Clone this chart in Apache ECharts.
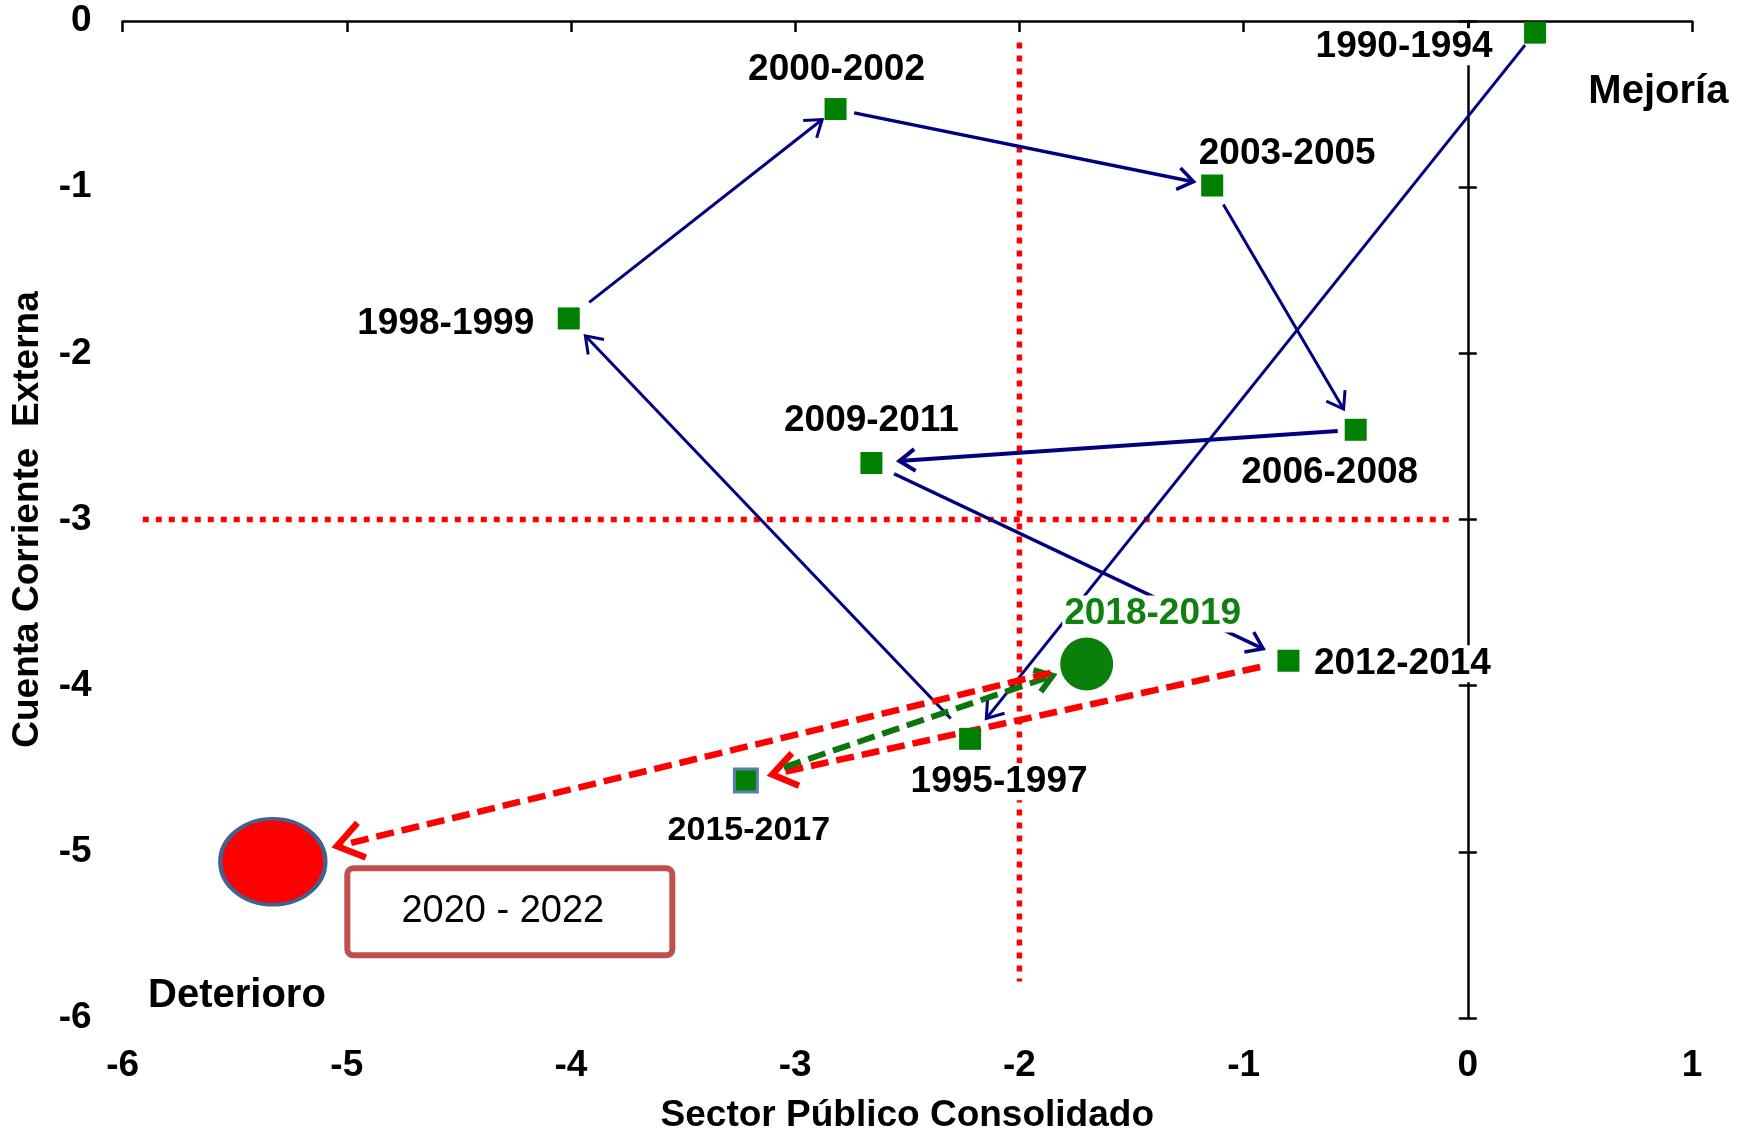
<!DOCTYPE html>
<html>
<head>
<meta charset="utf-8">
<script src="https://cdn.jsdelivr.net/npm/echarts@6/dist/echarts.min.js"></script>
<style>
html,body{margin:0;padding:0;background:#ffffff;}
#chart{width:1748px;height:1128px;}
</style>
</head>
<body>
<div id="chart"></div>
<script>
// ---------------- DATA ----------------
const periods  = ['1990-1994','1995-1997','1998-1999','2000-2002','2003-2005','2006-2008','2009-2011','2012-2014','2015-2017','2018-2019','2020-2022'];
const fiscal   = [ 0.30, -2.22, -4.01, -2.82, -1.14, -0.50, -2.66, -0.80, -3.22, -1.70, -5.33];
const external = [-0.07, -4.32, -1.79, -0.53, -0.99, -2.46, -2.66, -3.85, -4.57, -3.87, -5.06];
const xTicks = [-6, -5, -4, -3, -2, -1, 0, 1];
const yTicks = [0, -1, -2, -3, -4, -5, -6];
const xTitle = 'Sector Público Consolidado';
const yTitle = 'Cuenta Corriente  Externa';
const boxText = '2020 - 2022';
const thresholdV = [[-2, -0.13], [-2, -5.78]];
const thresholdH = [[-5.91, -3], [-0.06, -3]];
const notes = [
  {name: 'Mejoría',   value: [0.85, -0.43]},
  {name: 'Deterioro', value: [-5.49, -5.87]}
];

// ---------------- STYLES ----------------
const FONT = "'Liberation Sans', Arial, Helvetica, sans-serif";
const NAVY = '#000080', RED = '#FF0000', GREEN = '#0c760c';
// label offsets (px) relative to each point
const labelOffsets = [[-131,14],[29,43],[-123,5],[1,-39],[75,-32],[-26,43],[0,-42],[114,3],[3,50],[66,-50]];
const labelBg = [true,true,false,false,false,false,true,true,false,true];
const labelSizes = [37,37,37,37,37,37,37,37,34,37];
// segment styles (segment i goes from period i to period i+1)
const segStyles = [
  {c:NAVY, w:3,   dash:null,   g0:16, g1:26, h:19},
  {c:NAVY, w:3,   dash:null,   g0:28, g1:24, h:19},
  {c:NAVY, w:3,   dash:null,   g0:26, g1:17, h:19},
  {c:NAVY, w:3.5, dash:null,   g0:19, g1:19, h:19},
  {c:NAVY, w:3,   dash:null,   g0:22, g1:24, h:19},
  {c:NAVY, w:4,   dash:null,   g0:18, g1:28, h:19},
  {c:NAVY, w:3.5, dash:null,   g0:25, g1:28, h:19},
  {c:RED,  w:6.5, dash:[18,8], g0:29, g1:27, h:29},
  {c:GREEN,w:6,   dash:[18,8], g0:40, g1:36, h:20},
  {c:RED,  w:6.5, dash:[18,8], g0:37, g1:66, h:31}
];

// ---------------- BUILD ----------------
const squareData = [];
for (let i = 0; i <= 8; i++) {
  const item = {
    name: periods[i],
    value: [fiscal[i], external[i]],
    label: {offset: labelOffsets[i], fontSize: labelSizes[i], backgroundColor: labelBg[i] ? '#ffffff' : 'transparent'}
  };
  if (i === 8) {
    item.symbolSize = 23;
    item.itemStyle = {borderColor: '#5b7fae', borderWidth: 3};
  }
  squareData.push(item);
}
const segData = [];
for (let i = 0; i < periods.length - 1; i++) {
  segData.push([fiscal[i], external[i], fiscal[i + 1], external[i + 1]]);
}

const labelBase = {
  show: true, position: 'inside', formatter: '{b}',
  fontFamily: FONT, fontWeight: 'bold', fontSize: 37, color: '#000',
  padding: [0, 2]
};

function renderArrow(params, api) {
  const s = segStyles[params.dataIndex];
  const p0 = api.coord([api.value(0), api.value(1)]);
  const p1 = api.coord([api.value(2), api.value(3)]);
  const dx = p1[0] - p0[0], dy = p1[1] - p0[1];
  const L = Math.hypot(dx, dy);
  const ux = dx / L, uy = dy / L;
  const a = [p0[0] + ux * s.g0, p0[1] + uy * s.g0];
  const b = [p1[0] - ux * s.g1, p1[1] - uy * s.g1];
  const ang = 35 * Math.PI / 180;
  const bx = -ux, by = -uy;
  const c = Math.cos(ang), sn = Math.sin(ang);
  const r1 = [bx * c - by * sn, bx * sn + by * c];
  const r2 = [bx * c + by * sn, -bx * sn + by * c];
  const lineStyle = {stroke: s.c, lineWidth: s.w, fill: null};
  if (s.dash) lineStyle.lineDash = s.dash;
  const shaftEnd = [b[0] - ux * (s.w * 0.8), b[1] - uy * (s.w * 0.8)];
  return {
    type: 'group',
    children: [
      {type: 'line', shape: {x1: a[0], y1: a[1], x2: shaftEnd[0], y2: shaftEnd[1]}, style: lineStyle},
      {type: 'polyline',
       shape: {points: [[b[0] + r1[0] * s.h, b[1] + r1[1] * s.h], b, [b[0] + r2[0] * s.h, b[1] + r2[1] * s.h]]},
       style: {stroke: s.c, lineWidth: s.w, fill: null, lineJoin: 'miter', lineCap: 'butt'}}
    ]
  };
}

const chart = echarts.init(document.getElementById('chart'), null, {renderer: 'canvas'});
const axisFont = {fontFamily: FONT, fontWeight: 'bold', fontSize: 37, color: '#000'};

chart.setOption({
  animation: false,
  backgroundColor: '#ffffff',
  grid: {left: 122.6, right: 56, top: 21, bottom: 110, containLabel: false, outerBoundsMode: 'none'},
  xAxis: [
    {
      type: 'value', min: xTicks[0], max: xTicks[xTicks.length - 1], interval: 1,
      position: 'bottom',
      axisLine: {show: false, onZero: false}, axisTick: {show: false}, splitLine: {show: false},
      axisLabel: Object.assign({margin: 29}, axisFont),
      name: xTitle, nameLocation: 'middle', nameGap: 79,
      nameTextStyle: axisFont
    },
    {
      type: 'value', min: xTicks[0], max: xTicks[xTicks.length - 1], interval: 1,
      position: 'top',
      axisLine: {show: true, onZero: false, lineStyle: {color: '#000', width: 2.5}},
      axisTick: {show: true, inside: true, length: 11, lineStyle: {color: '#000', width: 2.5}},
      axisLabel: {show: false}, splitLine: {show: false}
    }
  ],
  yAxis: [
    {
      type: 'value', min: yTicks[yTicks.length - 1], max: yTicks[0], interval: 1,
      position: 'left',
      axisLine: {show: false, onZero: false}, axisTick: {show: false}, splitLine: {show: false},
      axisLabel: Object.assign({margin: 31}, axisFont),
      name: yTitle, nameLocation: 'middle', nameGap: 76,
      nameTextStyle: axisFont
    },
    {
      type: 'value', min: yTicks[yTicks.length - 1], max: yTicks[0], interval: 1,
      position: 'left',
      axisLine: {show: true, onZero: true, onZeroAxisIndex: 0, lineStyle: {color: '#000', width: 2.5}},
      axisTick: {show: true, inside: true, length: 9, lineStyle: {color: '#000', width: 2.5}},
      axisLabel: {show: false}, splitLine: {show: false}
    },
    {
      type: 'value', min: yTicks[yTicks.length - 1], max: yTicks[0], interval: 1,
      position: 'left',
      axisLine: {show: false, onZero: true, onZeroAxisIndex: 1},
      axisTick: {show: true, inside: false, length: 9, lineStyle: {color: '#000', width: 2.5}},
      axisLabel: {show: false}, splitLine: {show: false}
    }
  ],
  series: [
    {
      type: 'line', z: 1, silent: true, showSymbol: false, symbol: 'none',
      data: thresholdV,
      lineStyle: {color: RED, width: 5.5, type: [6, 7]}
    },
    {
      type: 'line', z: 1, silent: true, showSymbol: false, symbol: 'none',
      data: thresholdH,
      lineStyle: {color: RED, width: 5.5, type: [6, 7]}
    },
    {
      type: 'custom', z: 2, silent: true, clip: false,
      renderItem: renderArrow,
      encode: {x: [0, 2], y: [1, 3]},
      data: segData
    },
    {
      type: 'scatter', z: 4, symbol: 'rect', symbolSize: 22,
      itemStyle: {color: '#008000', opacity: 1},
      label: labelBase,
      data: squareData
    },
    {
      type: 'scatter', z: 4, symbol: 'circle', symbolSize: 53,
      itemStyle: {color: '#0a800a', opacity: 1},
      label: Object.assign({}, labelBase, {color: '#108010', offset: labelOffsets[9], backgroundColor: '#ffffff'}),
      data: [{name: periods[9], value: [fiscal[9], external[9]]}]
    },
    {
      type: 'scatter', z: 4, symbol: 'circle', symbolSize: [105, 86],
      itemStyle: {color: '#FF0000', borderColor: '#41618F', borderWidth: 4, opacity: 1},
      label: {
        show: true, position: 'inside', formatter: boxText, offset: [237, 50],
        fontFamily: FONT, fontSize: 38, color: '#000',
        backgroundColor: '#ffffff', borderColor: '#C0504D', borderWidth: 6, borderRadius: 3,
        padding: [0, 14, 0, 0], width: 305, height: 81, lineHeight: 81, align: 'center', verticalAlign: 'middle'
      },
      data: [{name: periods[10], value: [fiscal[10], external[10]]}]
    },
    {
      type: 'scatter', z: 4, symbolSize: 0, silent: true,
      itemStyle: {opacity: 1},
      label: {show: true, position: 'inside', formatter: '{b}', fontFamily: FONT, fontWeight: 'bold', fontSize: 40, color: '#000'},
      data: notes
    }
  ]
});
</script>
</body>
</html>
